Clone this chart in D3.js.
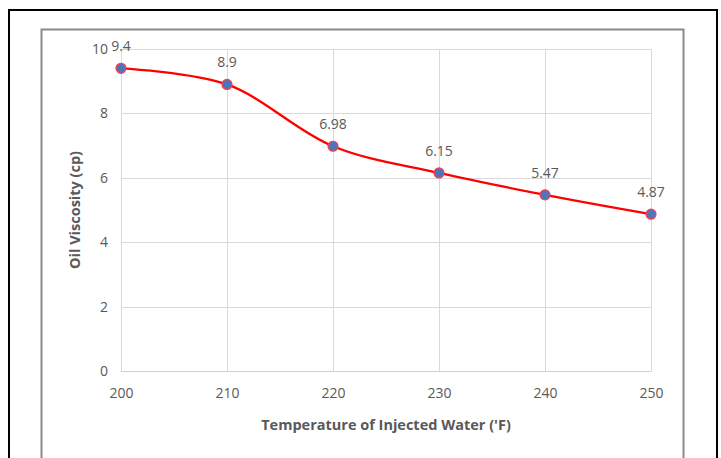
<!DOCTYPE html>
<html><head><meta charset="utf-8">
<script src="https://cdn.jsdelivr.net/npm/d3@7"></script>
<style>body{margin:0;background:#fff}svg{display:block}</style>
</head><body>
<script>
const temperatures = [200, 210, 220, 230, 240, 250];
const viscosity = [9.4, 8.9, 6.98, 6.15, 5.47, 4.87];
const valueLabels = ["9.4", "8.9", "6.98", "6.15", "5.47", "4.87"];
const yTicks = [0, 2, 4, 6, 8, 10];
const xTitle = "Temperature of Injected Water ('F)";
const yTitle = "Oil Viscosity (cp)";

const W = 721, H = 458;
const svg = d3.select("body").append("svg").attr("width", W).attr("height", H);
svg.append("rect").attr("width", W).attr("height", H).attr("fill", "#fff");

// outer and inner frames
svg.append("rect").attr("x", 9).attr("y", 10).attr("width", 708).attr("height", 470)
  .attr("fill", "none").attr("stroke", "#000").attr("stroke-width", 2);
svg.append("rect").attr("x", 41.5).attr("y", 29.5).attr("width", 642).attr("height", 450)
  .attr("fill", "none").attr("stroke", "#8a8a8a").attr("stroke-width", 2);

const x = d3.scaleLinear().domain([200, 250]).range([121, 651]);
const y = d3.scaleLinear().domain([0, 10]).range([371, 49]);
const font = "'Open Sans', Lato, sans-serif";
const grey = "#595959";

// gridlines
const g = svg.append("g");
g.selectAll("line.h").data(yTicks).join("line")
  .attr("x1", x(200)).attr("x2", x(250))
  .attr("y1", d => Math.round(y(d)) + 0.5).attr("y2", d => Math.round(y(d)) + 0.5)
  .attr("stroke", "#d9d9d9").attr("stroke-width", 1);
g.selectAll("line.v").data(temperatures).join("line")
  .attr("x1", d => Math.round(x(d)) + 0.5).attr("x2", d => Math.round(x(d)) + 0.5)
  .attr("y1", y(10)).attr("y2", y(0))
  .attr("stroke", "#d9d9d9").attr("stroke-width", 1);

// axes via d3 axis generators
const yAxis = svg.append("g").attr("transform", `translate(${x(200)},0)`)
  .call(d3.axisLeft(y).tickValues(yTicks).tickSize(0).tickPadding(13));
yAxis.select(".domain").remove();
yAxis.selectAll("text").attr("fill", grey).style("font-family", font).style("font-size", "14px");

const xAxis = svg.append("g").attr("transform", `translate(0,${y(0)})`)
  .call(d3.axisBottom(x).tickValues(temperatures).tickSize(0).tickPadding(17));
xAxis.select(".domain").attr("stroke", "#d0d0d0");
xAxis.selectAll("text").attr("fill", grey).style("font-family", font).style("font-size", "14px");

// titles
svg.append("text").attr("x", 386).attr("y", 430).attr("text-anchor", "middle")
  .attr("fill", grey).style("font-family", font).style("font-size", "14.5px").style("font-weight", "bold")
  .text(xTitle);
svg.append("text").attr("transform", "translate(80,210) rotate(-90)").attr("text-anchor", "middle")
  .attr("fill", grey).style("font-family", font).style("font-size", "14.5px").style("font-weight", "bold")
  .text(yTitle);

const data = temperatures.map((t, i) => ({t, v: viscosity[i], label: valueLabels[i]}));

const line = d3.line().x(d => x(d.t)).y(d => y(d.v)).curve(d3.curveCatmullRom.alpha(0.5));
svg.append("path").datum(data).attr("d", line)
  .attr("fill", "none").attr("stroke", "#ff0000").attr("stroke-width", 2.25);

svg.selectAll("circle.pt").data(data).join("circle")
  .attr("cx", d => x(d.t)).attr("cy", d => y(d.v)).attr("r", 5)
  .attr("fill", "#4f74bd").attr("stroke", "#ff3b3b").attr("stroke-width", 1.2);

svg.selectAll("text.lbl").data(data).join("text")
  .attr("x", d => x(d.t)).attr("y", d => y(d.v) - 17)
  .attr("text-anchor", "middle").attr("fill", grey)
  .style("font-family", font).style("font-size", "14px")
  .text(d => d.label);
</script>
</body></html>
